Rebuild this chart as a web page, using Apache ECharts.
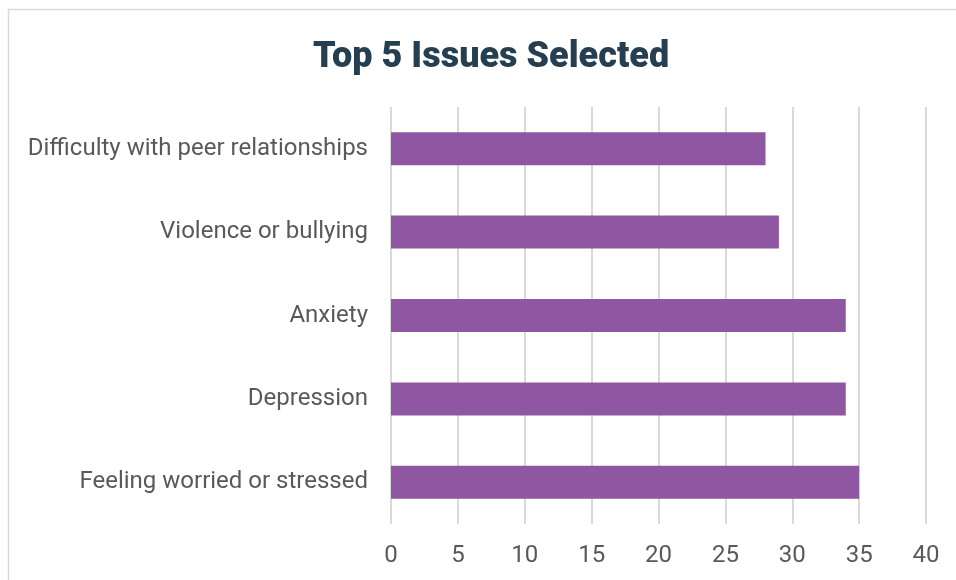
<!DOCTYPE html>
<html>
<head>
<meta charset="utf-8">
<script src="https://cdn.jsdelivr.net/npm/echarts@6/dist/echarts.min.js"></script>
<style>
html, body { margin: 0; padding: 0; background: #fff; }
#chart { width: 956px; height: 580px; }
</style>
</head>
<body>
<div id="chart"></div>
<script>
var categories = ['Difficulty with peer relationships', 'Violence or bullying', 'Anxiety', 'Depression', 'Feeling worried or stressed'];
var counts = [28, 29, 34, 34, 35];
var xTicks = [0, 5, 10, 15, 20, 25, 30, 35, 40];

var chart = echarts.init(document.getElementById('chart'));
chart.setOption({
	animation: false,
	title: {
		text: 'Top 5 Issues Selected',
		left: 308,
		top: 35,
		textStyle: {
			fontFamily: 'Roboto',
			fontSize: 36,
			fontWeight: 900,
			color: '#253f50'
		}
	},
	graphic: [{
		type: 'rect',
		shape: { x: 8.5, y: 9.5, width: 1200, height: 1200 },
		style: { fill: 'none', stroke: '#d9d9d9', lineWidth: 1.5 },
		silent: true
	}],
	grid: { left: 391, right: 30, top: 107, bottom: 56 },
	xAxis: {
		type: 'value',
		min: xTicks[0],
		max: xTicks[xTicks.length - 1],
		interval: 5,
		axisLine: { show: false },
		axisTick: { show: false },
		axisLabel: { fontFamily: 'Roboto', fontSize: 24, color: '#595959', margin: 20 },
		splitLine: { show: true, lineStyle: { color: '#d9d9d9', width: 2 } }
	},
	yAxis: {
		type: 'category',
		inverse: true,
		data: categories,
		axisLine: { show: false },
		axisTick: { show: false },
		axisLabel: { fontFamily: 'Roboto', fontSize: 24, color: '#595959', margin: 23, padding: [4, 0, 0, 0] }
	},
	series: [{
		type: 'bar',
		data: counts,
		barWidth: 33,
		itemStyle: { color: '#8f56a1' }
	}]
});
</script>
</body>
</html>
